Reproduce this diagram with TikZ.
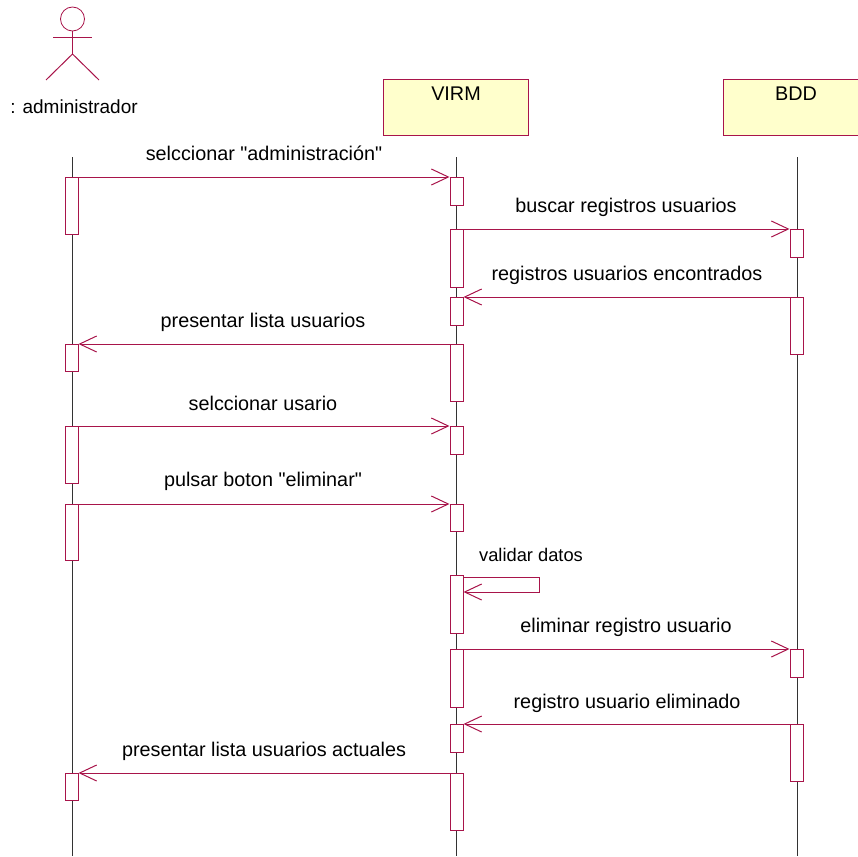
\documentclass[tikz,border=0pt]{standalone}
\usepackage{fontspec}
\setmainfont{Liberation Sans}[Ligatures=TeXOff]
\usetikzlibrary{arrows.meta}
\definecolor{rosered}{HTML}{A8144A}
\definecolor{roseyellow}{HTML}{FFFFCC}
\tikzset{
  objbox/.style={draw=rosered, fill=roseyellow, line width=1pt, anchor=north west, inner sep=0pt},
  actbar/.style={draw=rosered, fill=white, line width=1pt, minimum width=13pt, anchor=north, inner sep=0pt},
  lifeline/.style={black!80, line width=0.6pt},
  msg/.style={draw=rosered, line width=1pt, -{Straight Barb[length=17pt,width=16pt,line width=1pt]}},
  txt/.style={inner sep=0pt, font=\fontsize{19.8}{22}\selectfont},
}
\begin{document}
\begin{tikzpicture}[x=1pt,y=-1pt]
\useasboundingbox (0,0) rectangle (858,856);
% actor
\node[circle, draw=rosered, line width=0.8pt, minimum size=24pt, inner sep=0pt] (head) at (72.5,19){};
\coordinate (armL) at (53,37.5);
\coordinate (armR) at (92,37.5);
\coordinate (hip) at (72.5,54);
\coordinate (legL) at (46,80);
\coordinate (legR) at (99,80);
\draw[draw=rosered, line width=1pt](head) -- (hip);
\draw[draw=rosered, line width=1pt](armL) -- (armR);
\draw[draw=rosered, line width=1pt](legL) -- (hip) -- (legR);
\node[txt, font=\fontsize{19}{22}\selectfont] (admin) at (74,107){: administrador};
% objects
\node[objbox, minimum width=145pt, minimum height=56pt] (virm) at (383,79){};
\node[objbox, minimum width=140pt, minimum height=56pt] (bdd) at (723,79){};
\node[txt] (virmtxt) at (456,94){VIRM};
\node[txt] (bddtxt) at (796,94){BDD};
% lifelines
\coordinate (lineAtop) at (72.5,157);
\coordinate (lineAend) at (72.5,856);
\coordinate (lineVtop) at (456.5,157);
\coordinate (lineVend) at (456.5,856);
\coordinate (lineBtop) at (797.5,157);
\coordinate (lineBend) at (797.5,856);
\draw[lifeline](lineAtop) -- (lineAend);
\draw[lifeline](lineVtop) -- (lineVend);
\draw[lifeline](lineBtop) -- (lineBend);
% bars
\foreach \nm/\xx/\yy/\hh in {
  barA1/71.5/177/57, barA2/71.5/344/27, barA3/71.5/426/57, barA4/71.5/504/56, barA5/71.5/773/27,
  barV1/456.5/177/28, barV2/456.5/229/58, barV3/456.5/297/28, barV4/456.5/344/57, barV5/456.5/426/28,
  barV6/456.5/504/27, barV7/456.5/575/58, barV8/456.5/649/58, barV9/456.5/724/28, barV10/456.5/773/57,
  barB1/796.5/229/28, barB2/796.5/297/57, barB3/796.5/649/28, barB4/796.5/724/57}
  \node[actbar, minimum height=\hh pt] (\nm) at (\xx,\yy){};
% messages
\draw[msg](barA1.north east) -- (barV1.north west);
\draw[msg](barV2.north east) -- (barB1.north west);
\draw[msg](barB2.north west) -- (barV3.north east);
\draw[msg](barV4.north west) -- (barA2.north east);
\draw[msg](barA3.north east) -- (barV5.north west);
\draw[msg](barA4.north east) -- (barV6.north west);
\coordinate (selfT) at (539,577);
\coordinate (selfB) at (539,592);
\draw[msg](barV7.east |- selfT) -- (selfT) -- (selfB) -- (barV7.east |- selfB);
\draw[msg](barV8.north east) -- (barB3.north west);
\draw[msg](barB4.north west) -- (barV9.north east);
\draw[msg](barV10.north west) -- (barA5.north east);
% labels
\node[txt] (lab1) at (264,153){selccionar "administración"};
\node[txt] (lab2) at (626,207){buscar registros usuarios};
\node[txt] (lab3) at (627,275){registros usuarios encontrados};
\node[txt] (lab4) at (263,322){presentar lista usuarios};
\node[txt] (lab5) at (263,403){selccionar usario};
\node[txt] (lab6) at (263,481){pulsar boton "eliminar"};
\node[txt, font=\fontsize{18.3}{20}\selectfont] (lab7) at (531,555){validar datos};
\node[txt] (lab8) at (626,627){eliminar registro usuario};
\node[txt] (lab9) at (627,703){registro usuario eliminado};
\node[txt] (lab10) at (264,751){presentar lista usuarios actuales};
\end{tikzpicture}
\end{document}
